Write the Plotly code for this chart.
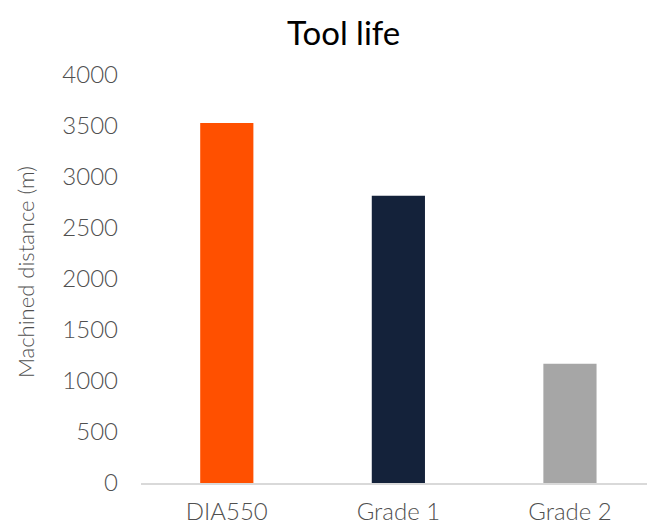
import plotly.graph_objects as go

categories = ["DIA550", "Grade 1", "Grade 2"]
distance_m = [3530, 2815, 1168]
bar_colors = ["#FF5000", "#14223A", "#A6A6A6"]
y_ticks = [0, 500, 1000, 1500, 2000, 2500, 3000, 3500, 4000]

W, H = 647, 525
ML, MR, MT, MB = 141, 0, 75, 42

fig = go.Figure(
    go.Bar(
        x=categories,
        y=distance_m,
        marker=dict(color=bar_colors, line=dict(width=0)),
        width=0.31,
    )
)

fig.update_layout(
    width=W,
    height=H,
    margin=dict(l=ML, r=MR, t=MT, b=MB, autoexpand=False),
    paper_bgcolor="white",
    plot_bgcolor="white",
    showlegend=False,
    font=dict(family="Lato", color="#595959"),
    xaxis=dict(
        range=[-0.5, 2.449],
        showgrid=False,
        showline=True,
        linecolor="#D9D9D9",
        linewidth=2,
        ticks="",
        tickfont=dict(size=24, color="#505050", family="Lato", weight=300),
        ticklabelstandoff=6,
    ),
    yaxis=dict(
        range=[0, 4000],
        tickvals=y_ticks,
        ticktext=[str(v) for v in y_ticks],
        showgrid=False,
        zeroline=False,
        showline=False,
        ticks="",
        tickfont=dict(size=24, color="#505050", family="Lato", weight=300),
        ticklabelstandoff=22,
    ),
    annotations=[
        dict(
            text="Tool life",
            xref="paper", yref="paper",
            x=(343 - ML) / (W - ML - MR),
            y=1 + (MT - 32) / (H - MT - MB),
            xanchor="center", yanchor="middle",
            showarrow=False,
            font=dict(size=33, color="#000000", family="Lato"),
        ),
        dict(
            text="Machined distance (m)",
            xref="paper", yref="paper",
            x=(25 - ML) / (W - ML - MR),
            y=(H - MB - 272) / (H - MT - MB),
            xanchor="center", yanchor="middle",
            textangle=-90,
            showarrow=False,
            font=dict(size=22, color="#505050", family="Lato", weight=300),
        ),
    ],
)

fig.write_html(
    "out.html",
    config={"displayModeBar": False},
    post_script="document.body.style.margin='0';document.body.style.overflow='hidden';",
)
